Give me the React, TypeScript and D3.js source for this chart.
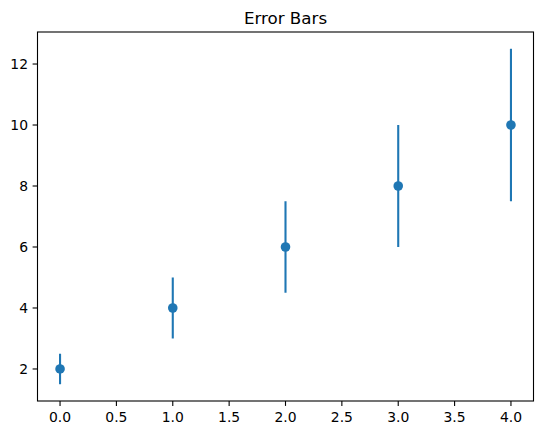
import React from "react";
import * as d3 from "d3";

const xValues = [0, 1, 2, 3, 4];
const yValues = [2, 4, 6, 8, 10];
const yErrors = [0.5, 1, 1.5, 2, 2.5];
const xTicks = [0, 0.5, 1, 1.5, 2, 2.5, 3, 3.5, 4];
const yTicks = [2, 4, 6, 8, 10, 12];
const title = "Error Bars";

const W = 543, H = 435;
const left = 37.5, right = 533.5, top = 32, bottom = 401;
const color = "#1f77b4";
const font = "DejaVu Sans, sans-serif";

export default function App() {
  const x = d3.scaleLinear().domain([-0.2, 4.2]).range([left, right]);
  const y = d3.scaleLinear().domain([0.95, 13.05]).range([bottom, top]);
  const data = xValues.map((v, i) => ({ x: v, y: yValues[i], e: yErrors[i] }));
  return (
    <svg width={W} height={H} style={{ position: "absolute", left: 0, top: 0 }}>
      <rect x={0} y={0} width={W} height={H} fill="white" />
      <text x={(left + right) / 2} y={24} textAnchor="middle" fontFamily={font} fontSize={16.7} fill="black">{title}</text>
      {data.map((d, i) => (
        <g key={i}>
          <line x1={x(d.x)} x2={x(d.x)} y1={y(d.y - d.e)} y2={y(d.y + d.e)} stroke={color} strokeWidth={2.1} />
          <circle cx={x(d.x)} cy={y(d.y)} r={4.8} fill={color} />
        </g>
      ))}
      <rect x={left} y={top} width={right - left} height={bottom - top} fill="none" stroke="black" strokeWidth={1.1} />
      {xTicks.map((t) => (
        <g key={"x" + t}>
          <line x1={x(t)} x2={x(t)} y1={bottom} y2={bottom + 4.9} stroke="black" strokeWidth={1.1} />
          <text x={x(t)} y={bottom + 20.5} textAnchor="middle" fontFamily={font} fontSize={13.9} fill="black">{t.toFixed(1)}</text>
        </g>
      ))}
      {yTicks.map((t) => (
        <g key={"y" + t}>
          <line x1={left - 4.9} x2={left} y1={y(t)} y2={y(t)} stroke="black" strokeWidth={1.1} />
          <text x={left - 9.5} y={y(t)} dy="0.35em" textAnchor="end" fontFamily={font} fontSize={13.9} fill="black">{t}</text>
        </g>
      ))}
    </svg>
  );
}
